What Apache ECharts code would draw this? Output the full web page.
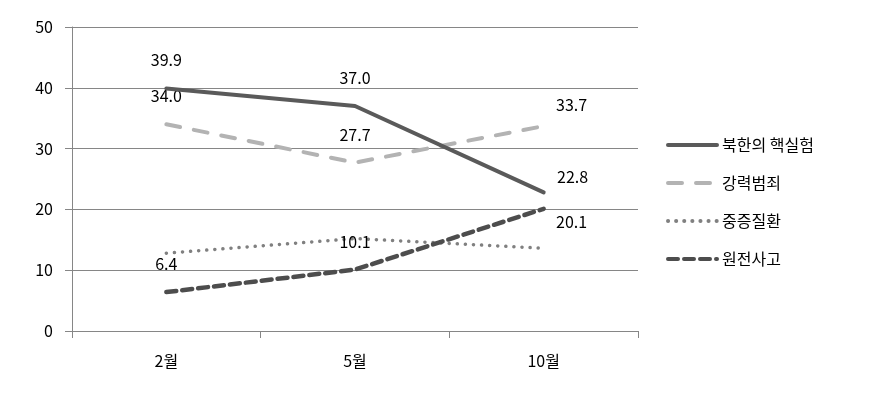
<!DOCTYPE html>
<html lang="ko">
<head>
    <meta charset="UTF-8">
    <title>chart</title>
    <script src="https://cdn.jsdelivr.net/npm/echarts@6/dist/echarts.min.js"></script>
    <style>
        html, body { margin: 0; padding: 0; background: #fff; }
        #main { width: 876px; height: 398px; }
    </style>
</head>
<body>
    <div id="main"></div>
    <script>
        var months = ['2월', '5월', '10월']
        var nuclearTest = [39.9, 37.0, 22.8]   // 북한의 핵실험
        var violentCrime = [34.0, 27.7, 33.7]  // 강력범죄
        var illness = [12.8, 15.2, 13.6]       // 중증질환 (라벨 없음)
        var plantAccident = [6.4, 10.1, 20.1]  // 원전사고
        var yTicks = [0, 10, 20, 30, 40, 50]

        var font = '"Noto Sans CJK KR", "Noto Sans", sans-serif'

        // 라벨 위치: 앞 두 점은 위, 마지막 점은 오른쪽
        function withLabels(values, lastOffset) {
            return values.map(function (v, i) {
                var off = i < 2 ? [0, -28] : lastOffset
                return {
                    value: v,
                    label: {
                        show: true,
                        position: 'inside',
                        offset: off,
                        formatter: function (p) { return p.value.toFixed(1) },
                        color: '#000',
                        fontSize: 16,
                        fontFamily: font
                    }
                }
            })
        }

        var chart = echarts.init(document.getElementById('main'))
        chart.setOption({
            animation: false,
            grid: { left: 72, right: 238, top: 27, bottom: 67 },
            legend: {
                orient: 'vertical',
                left: 661,
                top: 132,
                itemWidth: 49,
                itemHeight: 14,
                itemGap: 22,
                itemStyle: { opacity: 0 },
                lineStyle: { width: 4, cap: 'round' },
                textStyle: { fontSize: 16, color: '#000', fontFamily: font },
                data: ['북한의 핵실험', '강력범죄', '중증질환', '원전사고']
            },
            xAxis: {
                type: 'category',
                data: months,
                boundaryGap: true,
                axisLine: { lineStyle: { color: '#868686' } },
                axisTick: { show: true, length: 7, lineStyle: { color: '#868686' } },
                axisLabel: { color: '#000', fontSize: 16, margin: 22, fontFamily: font }
            },
            yAxis: {
                type: 'value',
                min: yTicks[0],
                max: yTicks[yTicks.length - 1],
                interval: 10,
                axisLine: { show: true, lineStyle: { color: '#868686' } },
                axisTick: { show: true, length: 7, lineStyle: { color: '#868686' } },
                axisLabel: { color: '#000', fontSize: 16, margin: 19, fontFamily: font },
                splitLine: { lineStyle: { color: '#868686', width: 1 } }
            },
            series: [{
                name: '북한의 핵실험',
                type: 'line',
                symbol: 'circle',
                symbolSize: 0.1,
                data: withLabels(nuclearTest, [29, -15]),
                lineStyle: { color: '#5a5a5a', width: 4, cap: 'round' },
                itemStyle: { color: '#5a5a5a' },
                z: 4
            }, {
                name: '강력범죄',
                type: 'line',
                symbol: 'circle',
                symbolSize: 0.1,
                data: withLabels(violentCrime, [28, -21]),
                lineStyle: { color: '#b3b3b3', width: 4, type: [14, 14], cap: 'round' },
                itemStyle: { color: '#b3b3b3' },
                z: 2
            }, {
                name: '중증질환',
                type: 'line',
                symbol: 'none',
                data: illness,
                lineStyle: { color: '#808080', width: 3.5, type: [0.1, 8], cap: 'round' },
                itemStyle: { color: '#808080' },
                z: 1
            }, {
                name: '원전사고',
                type: 'line',
                symbol: 'circle',
                symbolSize: 0.1,
                data: withLabels(plantAccident, [28, 13]),
                lineStyle: { color: '#4d4d4d', width: 4.5, type: [10, 6], cap: 'round' },
                itemStyle: { color: '#4d4d4d' },
                z: 3
            }]
        })
    </script>
</body>
</html>
